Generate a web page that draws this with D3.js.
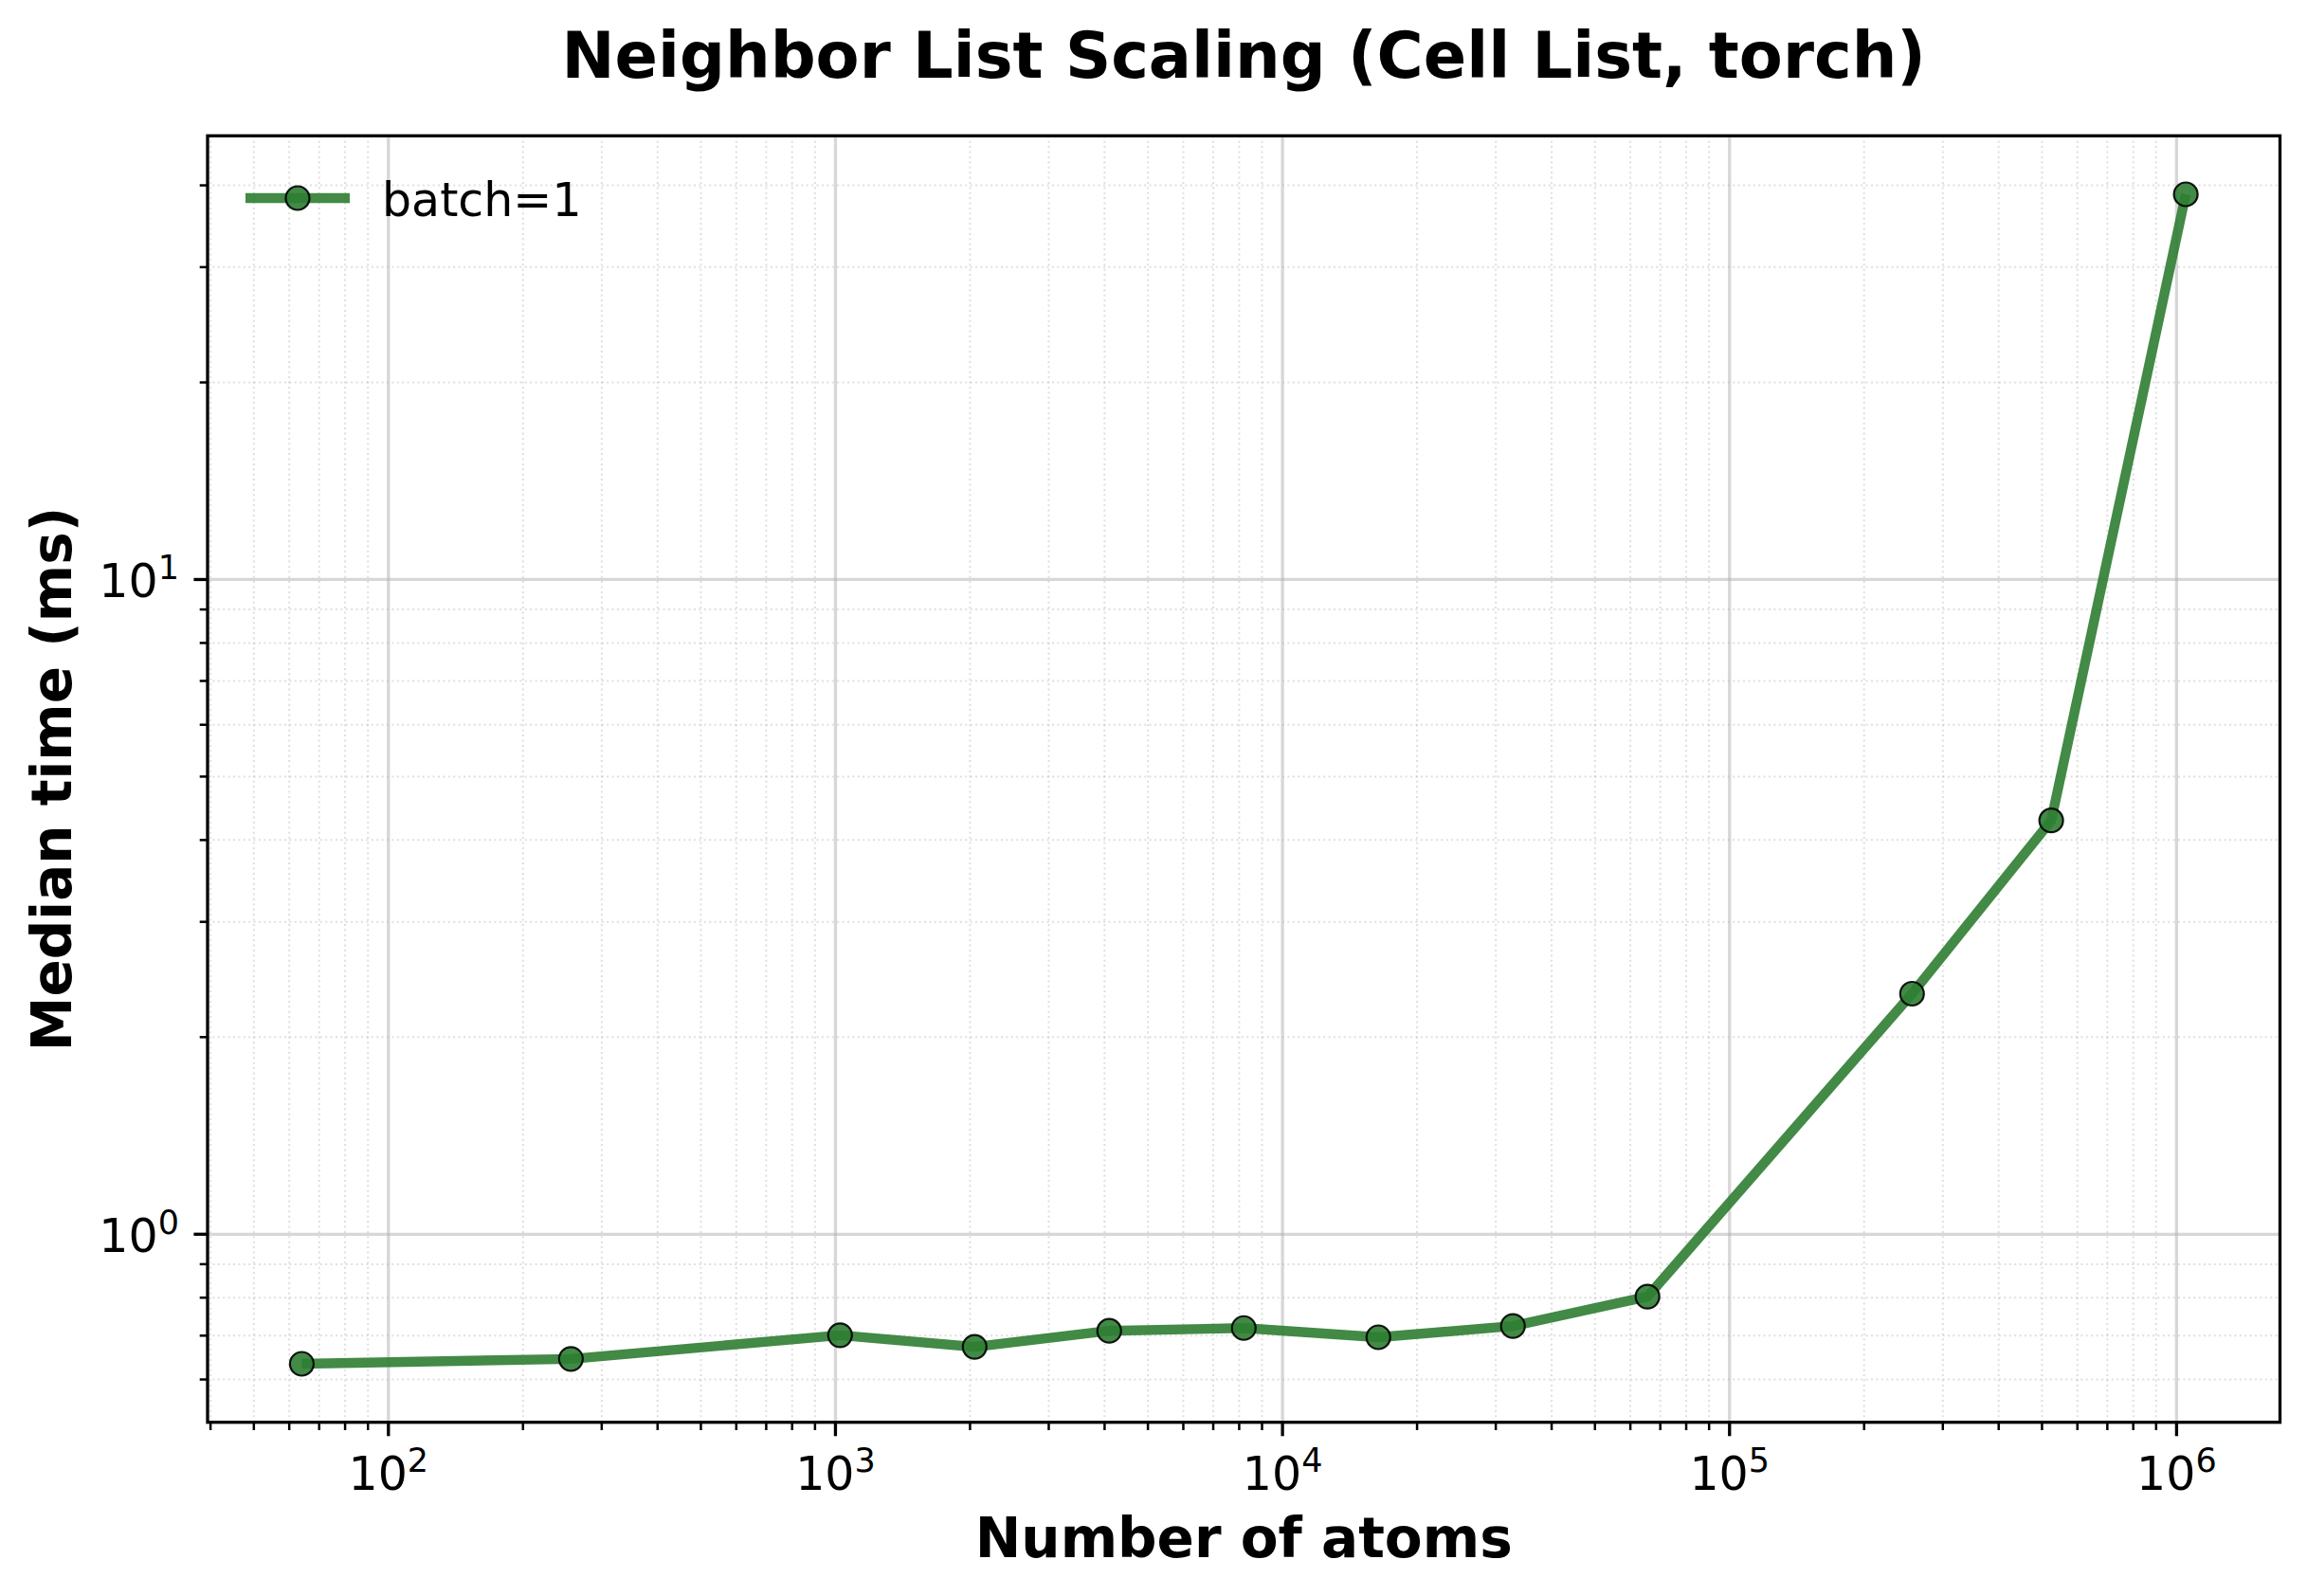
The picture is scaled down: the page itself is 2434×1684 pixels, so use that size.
<!DOCTYPE html>
<html>
<head>
<meta charset="utf-8">
<script src="https://cdn.jsdelivr.net/npm/d3@7"></script>
<style>
  body { margin: 0; background: #fff; }
  text { font-family: "DejaVu Sans", sans-serif; fill: #000; }
</style>
</head>
<body>
<div id="chart"></div>
<script>
// atoms per system and median time (ms), batch=1
const atoms = [64, 256, 1024, 2048, 4096, 8192, 16384, 32768, 65536, 256000, 524288, 1048576];
const medianMs = [0.634, 0.645, 0.701, 0.673, 0.712, 0.719, 0.696, 0.724, 0.803, 2.33, 4.285, 38.76];
const seriesName = "batch=1";
const xMajorTicks = [1e2, 1e3, 1e4, 1e5, 1e6];
const yMajorTicks = [1e0, 1e1];

const W = 2434, H = 1684;
const box = { left: 219, right: 2405.5, top: 143.3, bottom: 1500.7 };
const green = "#2E7D32";

const svg = d3.select("#chart").append("svg")
  .attr("width", W).attr("height", H)
  .attr("viewBox", `0 0 ${W} ${H}`);

// log domain with 5% margins like matplotlib
function padLog(vals) {
  const lo = Math.log10(d3.min(vals)), hi = Math.log10(d3.max(vals));
  const p = (hi - lo) * 0.05;
  return [Math.pow(10, lo - p), Math.pow(10, hi + p)];
}

const x = d3.scaleLog().domain(padLog(atoms)).range([box.left, box.right]);
const y = d3.scaleLog().domain(padLog(medianMs)).range([box.bottom, box.top]);

function minorTicks(scale) {
  const [a, b] = scale.domain();
  const out = [];
  for (let e = Math.floor(Math.log10(a)); e <= Math.ceil(Math.log10(b)); e++) {
    for (let k = 2; k <= 9; k++) {
      const v = k * Math.pow(10, e);
      if (v >= a && v <= b) out.push(v);
    }
  }
  return out;
}
const xMinor = minorTicks(x), yMinor = minorTicks(y);

// grid
const grid = svg.append("g");
grid.selectAll(".gxm").data(xMinor).enter().append("line")
  .attr("x1", d => x(d)).attr("x2", d => x(d))
  .attr("y1", box.top).attr("y2", box.bottom)
  .attr("stroke", "#b0b0b0").attr("stroke-opacity", 0.4)
  .attr("stroke-width", 2).attr("stroke-dasharray", "2,3.4");
grid.selectAll(".gym").data(yMinor).enter().append("line")
  .attr("y1", d => y(d)).attr("y2", d => y(d))
  .attr("x1", box.left).attr("x2", box.right)
  .attr("stroke", "#b0b0b0").attr("stroke-opacity", 0.4)
  .attr("stroke-width", 2).attr("stroke-dasharray", "2,3.4");
grid.selectAll(".gx").data(xMajorTicks).enter().append("line")
  .attr("x1", d => x(d)).attr("x2", d => x(d))
  .attr("y1", box.top).attr("y2", box.bottom)
  .attr("stroke", "#b0b0b0").attr("stroke-opacity", 0.5).attr("stroke-width", 3.3);
grid.selectAll(".gy").data(yMajorTicks).enter().append("line")
  .attr("y1", d => y(d)).attr("y2", d => y(d))
  .attr("x1", box.left).attr("x2", box.right)
  .attr("stroke", "#b0b0b0").attr("stroke-opacity", 0.5).attr("stroke-width", 3.3);

// axes
const xAxis = svg.append("g").attr("transform", `translate(0,${box.bottom})`);
xAxis.selectAll(".tM").data(xMajorTicks).enter().append("line")
  .attr("x1", d => x(d)).attr("x2", d => x(d)).attr("y1", 0).attr("y2", 14.6)
  .attr("stroke", "#000").attr("stroke-width", 3.3);
xAxis.selectAll(".tm").data(xMinor).enter().append("line")
  .attr("x1", d => x(d)).attr("x2", d => x(d)).attr("y1", 0).attr("y2", 8.3)
  .attr("stroke", "#000").attr("stroke-width", 2.5);
const xl = xAxis.selectAll(".lab").data(xMajorTicks).enter().append("text")
  .attr("x", d => x(d)).attr("y", 71)
  .attr("text-anchor", "middle").style("font-size", "49px");
xl.append("tspan").text("10");
xl.append("tspan").attr("dy", -19).style("font-size", "35px").text(d => Math.round(Math.log10(d)));

const yAxis = svg.append("g").attr("transform", `translate(${box.left},0)`);
yAxis.selectAll(".tM").data(yMajorTicks).enter().append("line")
  .attr("y1", d => y(d)).attr("y2", d => y(d)).attr("x1", 0).attr("x2", -14.6)
  .attr("stroke", "#000").attr("stroke-width", 3.3);
yAxis.selectAll(".tm").data(yMinor).enter().append("line")
  .attr("y1", d => y(d)).attr("y2", d => y(d)).attr("x1", 0).attr("x2", -8.3)
  .attr("stroke", "#000").attr("stroke-width", 2.5);
const yl = yAxis.selectAll(".lab").data(yMajorTicks).enter().append("text")
  .attr("x", -30).attr("y", d => y(d) + 19)
  .attr("text-anchor", "end").style("font-size", "49px");
yl.append("tspan").text("10");
yl.append("tspan").attr("dy", -19).style("font-size", "35px").text(d => Math.round(Math.log10(d)));

// series
const pts = atoms.map((a, i) => ({ a, t: medianMs[i] }));
const series = svg.append("g");
series.append("path")
  .datum(pts)
  .attr("d", d3.line().x(d => x(d.a)).y(d => y(d.t)))
  .attr("fill", "none").attr("stroke", green).attr("stroke-opacity", 0.9)
  .attr("stroke-width", 10.4).attr("stroke-linejoin", "round").attr("stroke-linecap", "butt");
series.selectAll("circle").data(pts).enter().append("circle")
  .attr("cx", d => x(d.a)).attr("cy", d => y(d.t)).attr("r", 12.5)
  .attr("fill", green).attr("fill-opacity", 0.9)
  .attr("stroke", "#000").attr("stroke-opacity", 0.9).attr("stroke-width", 2.2);

// spines
svg.append("rect")
  .attr("x", box.left).attr("y", box.top)
  .attr("width", box.right - box.left).attr("height", box.bottom - box.top)
  .attr("fill", "none").attr("stroke", "#000").attr("stroke-width", 3.3);

// legend
const leg = svg.append("g");
leg.append("line").attr("x1", 259).attr("x2", 369).attr("y1", 209).attr("y2", 209)
  .attr("stroke", green).attr("stroke-opacity", 0.9).attr("stroke-width", 10.4);
leg.append("circle").attr("cx", 314).attr("cy", 209).attr("r", 12.5)
  .attr("fill", green).attr("fill-opacity", 0.9)
  .attr("stroke", "#000").attr("stroke-opacity", 0.9).attr("stroke-width", 2.2);
leg.append("text").attr("x", 403).attr("y", 228)
  .style("font-size", "49px").text(seriesName);

// title and axis labels
svg.append("text").attr("x", (box.left + box.right) / 2).attr("y", 82)
  .attr("text-anchor", "middle").style("font-size", "67px").style("font-weight", "bold")
  .text("Neighbor List Scaling (Cell List, torch)");
svg.append("text").attr("x", (box.left + box.right) / 2).attr("y", 1643)
  .attr("text-anchor", "middle").style("font-size", "58px").style("font-weight", "bold")
  .text("Number of atoms");
svg.append("text")
  .attr("transform", `translate(75,${(box.top + box.bottom) / 2}) rotate(-90)`)
  .attr("text-anchor", "middle").style("font-size", "58px").style("font-weight", "bold")
  .text("Median time (ms)");
</script>
</body>
</html>
